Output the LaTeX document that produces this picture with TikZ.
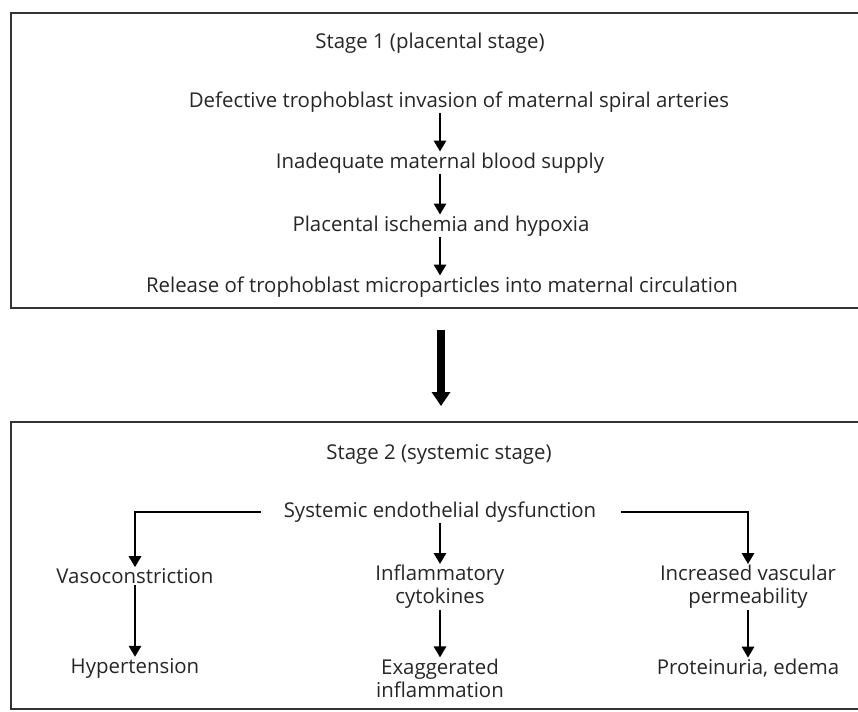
\documentclass[tikz,border=0pt]{standalone}
\usepackage{fontspec}
\setmainfont{Open Sans}
\usetikzlibrary{arrows.meta}
\begin{document}
\begin{tikzpicture}[x=1pt,y=-1pt,
  txt/.style={font=\fontsize{20.4}{23}\selectfont, inner sep=1pt, align=center, text=black!85},
  frame/.style={draw=black!80, line width=2.4pt},
  arr/.style={draw=black, line width=2.8pt, -{Triangle[width=12pt,length=11pt]}},
  bigarr/.style={draw=black, line width=7.5pt, -{Triangle[width=18pt,length=14pt]}},
]
\useasboundingbox[fill=white] (0,0) rectangle (858,711);
\draw[frame] (11,13) rectangle (875,308);
\draw[frame] (11,422) rectangle (875,709);
% Stage 1
\node[txt] (s1) at (430,43) {Stage 1 (placental stage)};
\node[txt] (a1) at (459,102) {Defective trophoblast invasion of maternal spiral arteries};
\node[txt] (a2) at (440,163) {Inadequate maternal blood supply};
\node[txt] (a3) at (441,226) {Placental ischemia and hypoxia};
\node[txt] (a4) at (442,287) {Release of trophoblast microparticles into maternal circulation};
\draw[arr] (a1.south -| a2.north) -- (a2.north);
\draw[arr] (a2.south -| a2.north) -- (a2.south |- a3.north);
\draw[arr] (a2.south |- a3.south) -- (a2.south |- a4.north);
% big arrow
\coordinate (bs) at (441,330);
\coordinate (be) at (441,406);
\draw[bigarr] (bs) -- (be);
% Stage 2
\node[txt] (s2) at (439,454) {Stage 2 (systemic stage)};
\node[txt] (sed) at (440,512) {Systemic endothelial dysfunction};
\node[txt] (vc) at (135,576) {Vasoconstriction};
\node[txt] (ht) at (135,668) {Hypertension};
\node[txt] (ic) at (440,587) {Inflammatory\\cytokines};
\node[txt] (ei) at (440,678) {Exaggerated\\inflammation};
\node[txt] (vp) at (748,587) {Increased vascular\\permeability};
\node[txt] (pe) at (748,668) {Proteinuria, edema};
\draw[arr, shorten <=22pt] (sed.west) -| (vc.north);
\draw[arr, shorten <=24pt] (sed.east) -| (vp.north);
\draw[arr] (sed.south) -- (ic.north);
\draw[arr] (vc.south) -- (ht.north);
\draw[arr] (ic.south) -- (ei.north);
\draw[arr] (vp.south) -- (pe.north);
\end{tikzpicture}
\end{document}
